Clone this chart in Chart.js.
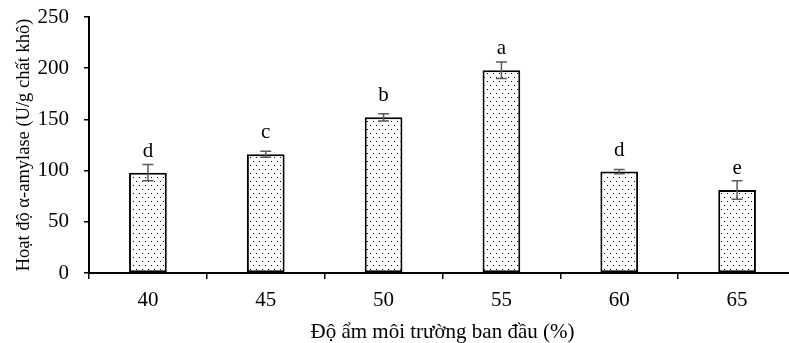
<!DOCTYPE html>
<html>
<head>
<meta charset="utf-8">
<script src="https://cdn.jsdelivr.net/npm/chart.js@4.4.1/dist/chart.umd.min.js"></script>
<style>
  html, body { margin: 0; padding: 0; background: #fff; overflow: hidden; }
  #wrap { width: 800px; height: 343px; }
</style>
</head>
<body>
<div id="wrap"><canvas id="chart" width="800" height="343"></canvas></div>
<script>
// 数据
const categories = ['40', '45', '50', '55', '60', '65'];
const meanValues = [98, 116, 152, 198, 99, 81];
const errorValues = [8, 3, 3.5, 8, 2, 9];
const letterLabels = ['d', 'c', 'b', 'a', 'd', 'e'];
const yTicks = [0, 50, 100, 150, 200, 250];

const serif = "'Liberation Serif', 'Times New Roman', serif";
Chart.defaults.font.family = serif;
Chart.defaults.color = '#000';

// 点状填充
function makeDotPattern() {
    const c = document.createElement('canvas');
    c.width = 6;
    c.height = 8;
    const g = c.getContext('2d');
    g.fillStyle = '#fff';
    g.fillRect(0, 0, 6, 8);
    g.fillStyle = '#000';
    g.fillRect(1, 1, 1, 1);
    g.fillRect(4, 5, 1, 1);
    return g.createPattern(c, 'repeat');
}

// 误差线和字母标注
const errorBarPlugin = {
    id: 'errorBars',
    afterDatasetsDraw(chart) {
        const ctx = chart.ctx;
        const meta = chart.getDatasetMeta(0);
        const y = chart.scales.y;
        ctx.save();
        meta.data.forEach((bar, i) => {
            const x = bar.x;
            const top = y.getPixelForValue(meanValues[i] + errorValues[i]);
            const bottom = y.getPixelForValue(meanValues[i] - errorValues[i]);
            ctx.strokeStyle = '#595959';
            ctx.lineWidth = 1.5;
            ctx.beginPath();
            ctx.moveTo(x, top);
            ctx.lineTo(x, bottom);
            ctx.moveTo(x - 5.5, top);
            ctx.lineTo(x + 5.5, top);
            ctx.moveTo(x - 5.5, bottom);
            ctx.lineTo(x + 5.5, bottom);
            ctx.stroke();

            ctx.fillStyle = '#000';
            ctx.font = '21px ' + serif;
            ctx.textAlign = 'center';
            ctx.textBaseline = 'alphabetic';
            ctx.fillText(letterLabels[i], x, y.getPixelForValue(meanValues[i]) - 16);
        });
        ctx.restore();
    }
};

const ctx = document.getElementById('chart').getContext('2d');
new Chart(ctx, {
    type: 'bar',
    data: {
        labels: categories,
        datasets: [{
            data: meanValues,
            backgroundColor: makeDotPattern(),
            borderColor: '#000',
            borderWidth: 2,
            borderSkipped: false,
            barPercentage: 0.32,
            categoryPercentage: 1
        }]
    },
    options: {
        responsive: false,
        animation: false,
        layout: { padding: { top: 17, right: 4, left: 0, bottom: 0 } },
        plugins: {
            legend: { display: false },
            tooltip: { enabled: false }
        },
        scales: {
            x: {
                grid: { drawOnChartArea: false, drawTicks: true, tickLength: 6, color: '#000', lineWidth: 1.5 },
                border: { color: '#000', width: 2 },
                ticks: { font: { size: 21 }, padding: 9 },
                title: {
                    display: true,
                    text: 'Độ ẩm môi trường ban đầu (%)',
                    font: { size: 21 },
                    padding: { top: 0, bottom: -2 }
                },
                afterFit(scale) { scale.height = 70; }
            },
            y: {
                min: 0,
                max: 250,
                afterBuildTicks(scale) { scale.ticks = yTicks.map(v => ({ value: v })); },
                grid: { drawOnChartArea: false, drawTicks: true, tickLength: 5, color: '#000', lineWidth: 1.5 },
                border: { color: '#000', width: 2 },
                ticks: { font: { size: 21 }, padding: 15 },
                title: {
                    display: true,
                    text: 'Hoạt độ α-amylase (U/g chất khô)',
                    font: { size: 18.5 },
                    padding: { top: 13, bottom: 0 }
                },
                afterFit(scale) {
                    scale.width = 89;
                    scale.paddingTop = 0;
                    scale.paddingBottom = 0;
                }
            }
        }
    },
    plugins: [errorBarPlugin]
});
</script>
</body>
</html>
